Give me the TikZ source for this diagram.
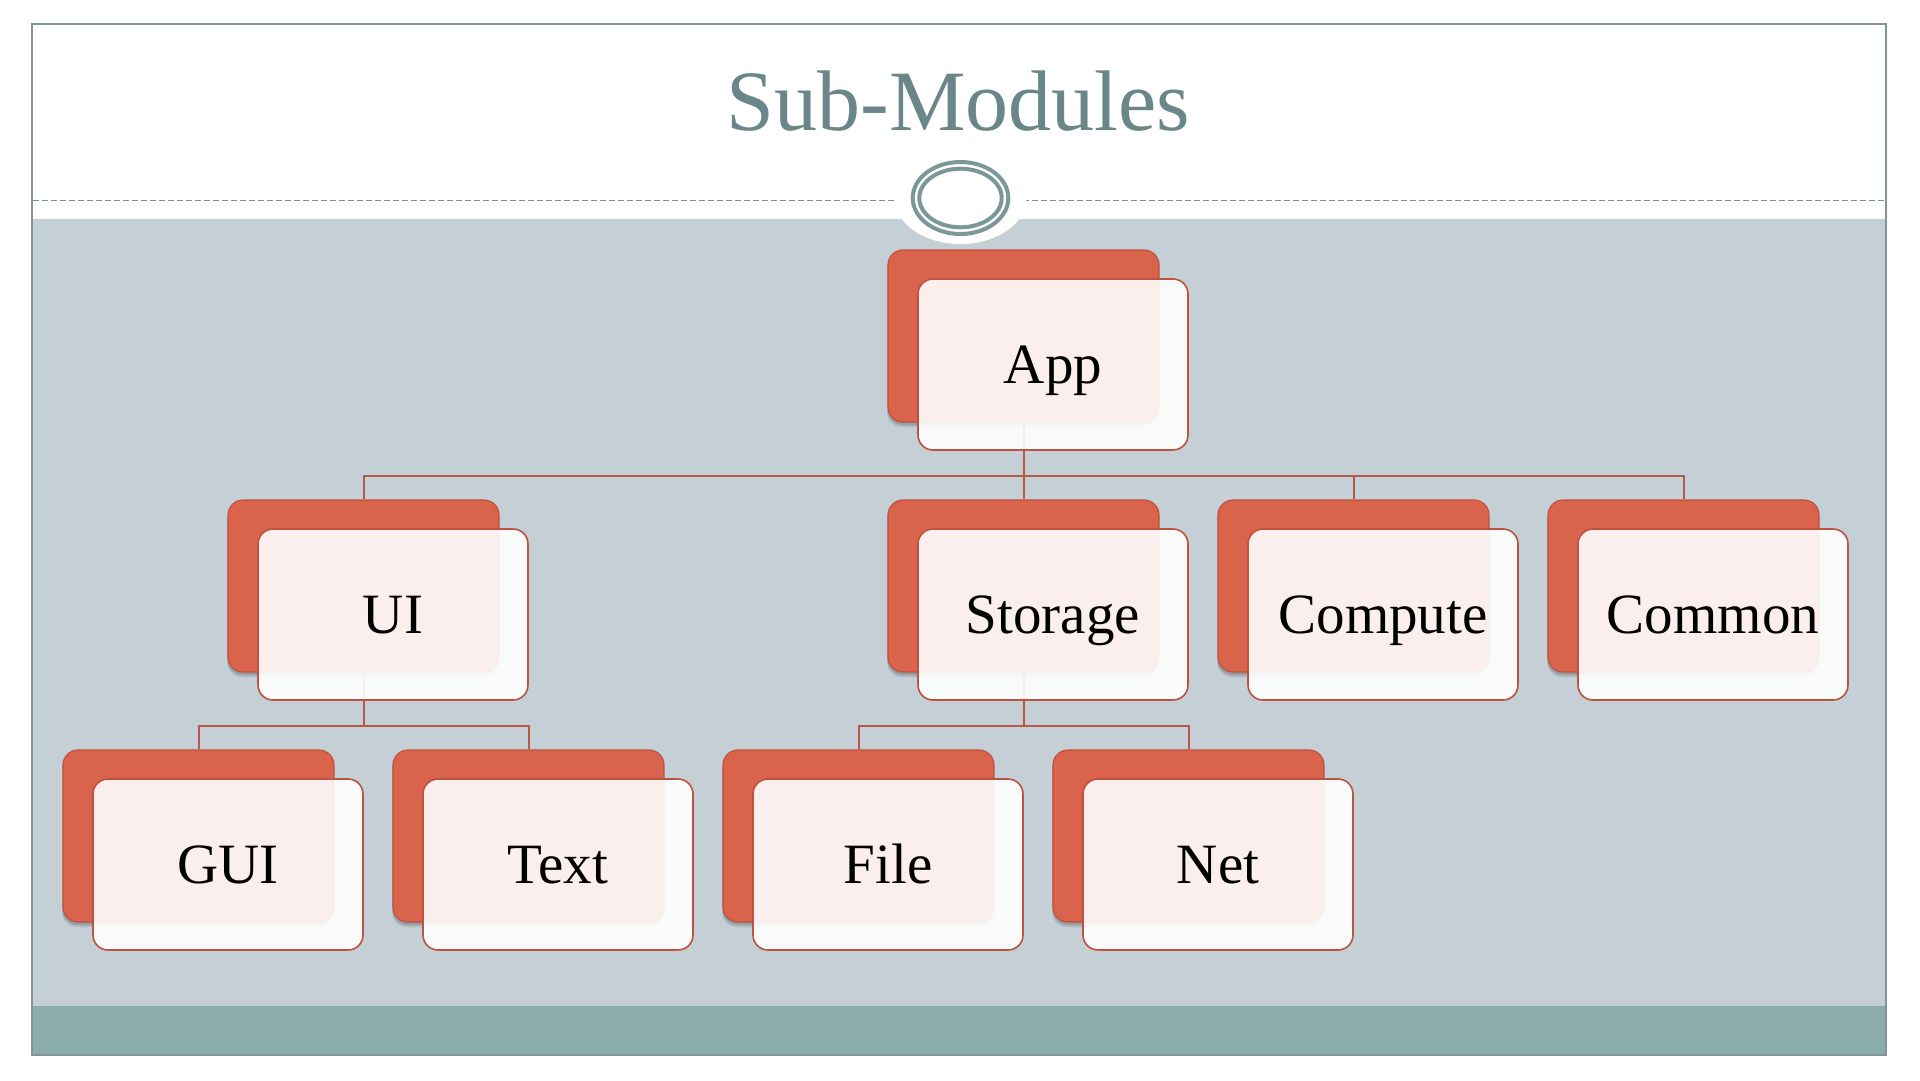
\documentclass[tikz,border=0pt]{standalone}
\usepackage{fontspec}
\setmainfont{Liberation Serif}
\usetikzlibrary{shadows,calc}
\definecolor{slate}{RGB}{197,208,214}
\definecolor{band}{RGB}{139,172,173}
\definecolor{framec}{RGB}{128,150,150}
\definecolor{titlec}{RGB}{106,134,136}
\definecolor{ringc}{RGB}{122,152,152}
\definecolor{dashc}{RGB}{120,145,145}
\definecolor{cardred}{RGB}{218,99,75}
\definecolor{cardedge}{RGB}{190,82,64}
\definecolor{linkc}{RGB}{186,88,70}
\newcommand\myback[3]{\node[backcard] (#1b) at (#2+135.5,#3+86) {};}
\newcommand\myfront[4]{\node[frontcard] (#1) at (#2+165,#3+114.5) {#4};}
\begin{document}
\begin{tikzpicture}[x=1pt,y=-1pt,
  backcard/.style={rounded corners=15pt, minimum width=271pt, minimum height=172pt,
    inner sep=0pt, fill=cardred, draw=cardedge, line width=1.2pt,
    drop shadow={shadow xshift=-1pt, shadow yshift=-5pt, opacity=0.10, fill=black},
    drop shadow={shadow xshift=-0.5pt, shadow yshift=-3pt, opacity=0.15, fill=black}},
  frontcard/.style={rounded corners=15pt, minimum width=270pt, minimum height=171pt,
    inner sep=0pt, fill=white, fill opacity=0.9, text opacity=1, draw=cardedge,
    line width=1.6pt, font=\fontsize{57}{60}\selectfont, text height=37.5pt, text depth=0pt},
  link/.style={draw=linkc, line width=2pt}]
\useasboundingbox (0,0) rectangle (1920,1080);
\fill[white] (0,0) rectangle (1920,1080);
\fill[slate] (32,219) rectangle (1886,1006);
\fill[band] (32,1006) rectangle (1886,1055);
\draw[dashc, line width=1.3pt, dash pattern=on 6pt off 3pt] (33,200.7) -- (1885,200.7);
\fill[white] (960.5,198) ellipse [x radius=66, y radius=46];
\draw[ringc, line width=4pt] (960.5,198) ellipse [x radius=47.8, y radius=36];
\draw[ringc, line width=4pt] (960.5,198) ellipse [x radius=41.2, y radius=29.3];
\draw[framec, line width=2.5pt] (32,24) rectangle (1886,1055);
\node[titlec, font=\fontsize{86}{90}\selectfont, anchor=base] (title) at (958.5,130) {Sub-Modules};
% back cards
\myback{app}{888}{250}
\myback{ui}{228}{500}
\myback{storage}{888}{500}
\myback{compute}{1218}{500}
\myback{common}{1548}{500}
\myback{gui}{63}{750}
\myback{text}{393}{750}
\myback{file}{723}{750}
\myback{net}{1053}{750}
% connectors
\draw[link] (appb.south) -- ++(0,53) -| (uib.north);
\draw[link] (appb.south) -- (storageb.north);
\draw[link] (appb.south) -- ++(0,53) -| (computeb.north);
\draw[link] (appb.south) -- ++(0,53) -| (commonb.north);
\draw[link] (uib.south) -- ++(0,53) -| (guib.north);
\draw[link] (uib.south) -- ++(0,53) -| (textb.north);
\draw[link] (storageb.south) -- ++(0,53) -| (fileb.north);
\draw[link] (storageb.south) -- ++(0,53) -| (netb.north);
% front cards
\myfront{app}{888}{250}{App}
\myfront{ui}{228}{500}{UI}
\myfront{storage}{888}{500}{Storage}
\myfront{compute}{1218}{500}{Compute}
\myfront{common}{1548}{500}{Common}
\myfront{gui}{63}{750}{GUI}
\myfront{text}{393}{750}{Text}
\myfront{file}{723}{750}{File}
\myfront{net}{1053}{750}{Net}
\end{tikzpicture}
\end{document}
